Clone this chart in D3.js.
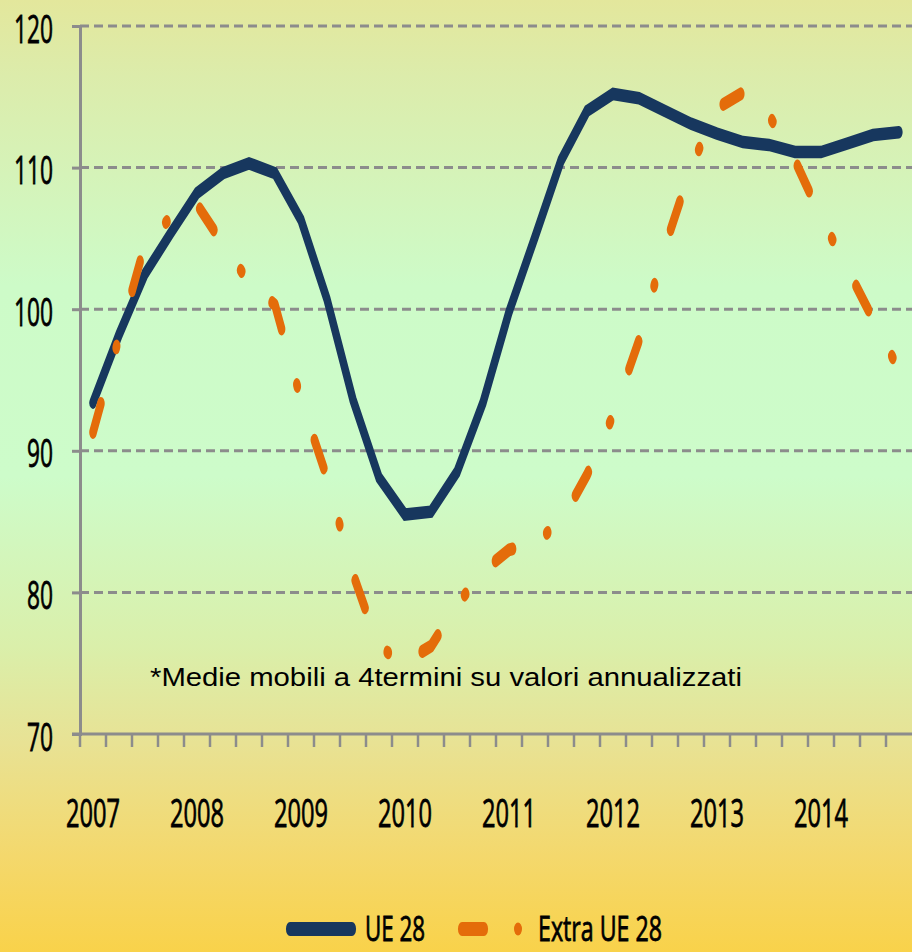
<!DOCTYPE html>
<html>
<head>
<meta charset="utf-8">
<script src="https://cdn.jsdelivr.net/npm/d3@7"></script>
<style>
  body { margin: 0; background: #fff; }
  svg { display: block; }
  .lbl { stroke: #000; stroke-width: 0.8px; fill: #000; }
</style>
</head>
<body>
<div class="chart"></div>
<script>
// categories: one per quarter, 2007 to 2014
const years = ['2007', '2008', '2009', '2010', '2011', '2012', '2013', '2014'];
const quarterNames = ['I', 'II', 'III', 'IV'];
const quarters = years.flatMap(y => quarterNames.map(q => y + '-' + q));

const yTicks = [70, 80, 90, 100, 110, 120];

// series values
const ue28 = [93.4, 98.2, 102.5, 105.4, 108.2, 109.6, 110.3, 109.6,
              106.3, 100.7, 93.6, 88.1, 85.5, 85.7, 88.5, 93.4,
              99.8, 105.1, 110.5, 114.0, 115.2, 114.9, 114.0, 113.1,
              112.4, 111.8, 111.6, 111.1, 111.1, 111.7, 112.3, 112.5];
const extraUe28 = [91.3, 98.0, 104.6, 106.5, 107.4, 104.6, 101.9, 100.3,
                   93.6, 88.1, 81.3, 76.1, 75.1, 76.2, 79.1, 81.5,
                   83.0, 83.5, 85.0, 88.3, 92.5, 97.8, 104.4, 110.0,
                   114.2, 115.3, 113.7, 110.5, 106.5, 102.9, 99.3, 95.7];

const seriesNames = ['UE 28', 'Extra UE 28'];
const note = '*Medie mobili a 4termini su valori annualizzati';

const width = 912, height = 952;
const blue = '#17375e', orange = '#e46c0a', grey = '#8c8c8c';
const labelFont = '"Liberation Sans Narrow", "Open Sans", sans-serif';
// the original chart was squeezed sideways, so strokes and dashes are drawn
// in a wider space and scaled back by this factor
const squeeze = 0.58;

const svg = d3.select('.chart').append('svg')
    .attr('width', width)
    .attr('height', height);

// background gradient
const grad = svg.append('defs').append('linearGradient')
    .attr('id', 'bg')
    .attr('x1', 0).attr('y1', 0).attr('x2', 0).attr('y2', 1);
[[0, '#e3e79c'], [0.08, '#dcecab'], [0.3, '#cdfbc8'], [0.5, '#cdfcca'],
 [0.68, '#daefaa'], [0.78, '#e8e294'], [0.9, '#f4d86c'], [1, '#f9d24a']]
    .forEach(s => grad.append('stop').attr('offset', s[0]).attr('stop-color', s[1]));

svg.append('rect')
    .attr('width', width).attr('height', height)
    .attr('fill', 'url(#bg)');

const x = d3.scaleBand().domain(quarters).range([80, 912]);
const y = d3.scaleLinear().domain([70, 120]).range([734, 26]);
const cx = (d, i) => x(quarters[i]) + x.bandwidth() / 2;

// horizontal dashed gridlines
svg.append('g')
    .selectAll('line')
    .data(yTicks.filter(v => v > 70))
    .join('line')
    .attr('x1', 80).attr('x2', 912)
    .attr('y1', d => y(d)).attr('y2', d => y(d))
    .attr('stroke', grey)
    .attr('stroke-width', 3)
    .attr('stroke-dasharray', '9,5');

// y axis
const yAxis = svg.append('g')
    .attr('transform', 'translate(80,0)')
    .call(d3.axisLeft(y).tickValues(yTicks).tickSize(8).tickPadding(19));
yAxis.select('.domain').attr('stroke', grey).attr('stroke-width', 3);
yAxis.selectAll('.tick line').attr('stroke', grey).attr('stroke-width', 3);
yAxis.selectAll('.tick text')
    .attr('class', 'lbl')
    .attr('dy', null)
    .attr('y', 16)
    .style('font-family', labelFont)
    .style('font-size', '39px')
    .attr('textLength', d => d >= 100 ? 39 : 26)
    .attr('lengthAdjust', 'spacingAndGlyphs');

// x axis: line plus ticks between categories
const xAxis = svg.append('g');
xAxis.append('line')
    .attr('x1', 72).attr('x2', 912)
    .attr('y1', y(70)).attr('y2', y(70))
    .attr('stroke', grey).attr('stroke-width', 3);
xAxis.selectAll('line.tick')
    .data(quarters)
    .join('line')
    .attr('class', 'tick')
    .attr('x1', d => x(d)).attr('x2', d => x(d))
    .attr('y1', y(70)).attr('y2', y(70) + 13)
    .attr('stroke', grey).attr('stroke-width', 2.5);
xAxis.selectAll('text')
    .data(years)
    .join('text')
    .attr('class', 'lbl')
    .attr('x', d => x(d + '-I') + x.bandwidth() / 2)
    .attr('y', 827)
    .attr('text-anchor', 'middle')
    .style('font-family', labelFont)
    .style('font-size', '39px')
    .attr('textLength', 54)
    .attr('lengthAdjust', 'spacingAndGlyphs')
    .text(d => d);

// note
svg.append('text')
    .attr('x', 150).attr('y', 686)
    .style('font-family', '"Liberation Sans", Arial, sans-serif')
    .style('font-size', '25px')
    .attr('textLength', 592)
    .attr('lengthAdjust', 'spacingAndGlyphs')
    .text(note);

// lines, drawn in the unsqueezed space
const plot = svg.append('g').attr('transform', `scale(${squeeze},1)`);
const line = d3.line().x((d, i) => cx(d, i) / squeeze).y(d => y(d));

plot.append('path')
    .datum(ue28)
    .attr('d', line)
    .attr('fill', 'none')
    .attr('stroke', blue)
    .attr('stroke-width', 12.5)
    .attr('stroke-linejoin', 'miter')
    .attr('stroke-miterlimit', 3)
    .attr('stroke-linecap', 'round');

plot.append('path')
    .datum(extraUe28)
    .attr('d', line)
    .attr('fill', 'none')
    .attr('stroke', orange)
    .attr('stroke-width', 13)
    .attr('stroke-linejoin', 'round')
    .attr('stroke-linecap', 'round')
    .attr('stroke-dasharray', '32,61.5,2,61.5');

// legend
const legend = svg.append('g');
const legendLines = legend.append('g').attr('transform', `scale(${squeeze},1)`);
legendLines.append('line')
    .attr('x1', 290 / squeeze).attr('x2', 352 / squeeze)
    .attr('y1', 929).attr('y2', 929)
    .attr('stroke', blue).attr('stroke-width', 14)
    .attr('stroke-linecap', 'round');
legendLines.append('line')
    .attr('x1', 462 / squeeze).attr('x2', 484 / squeeze)
    .attr('y1', 929).attr('y2', 929)
    .attr('stroke', orange).attr('stroke-width', 14)
    .attr('stroke-linecap', 'round');
legend.append('ellipse')
    .attr('cx', 518).attr('cy', 929)
    .attr('rx', 4).attr('ry', 6.5)
    .attr('fill', orange);
legend.selectAll('text')
    .data(seriesNames)
    .join('text')
    .attr('class', 'lbl')
    .attr('x', (d, i) => i === 0 ? 365 : 538)
    .attr('y', 941)
    .style('font-family', labelFont)
    .style('font-size', '34px')
    .attr('textLength', (d, i) => i === 0 ? 60 : 124)
    .attr('lengthAdjust', 'spacingAndGlyphs')
    .text(d => d);
</script>
</body>
</html>
